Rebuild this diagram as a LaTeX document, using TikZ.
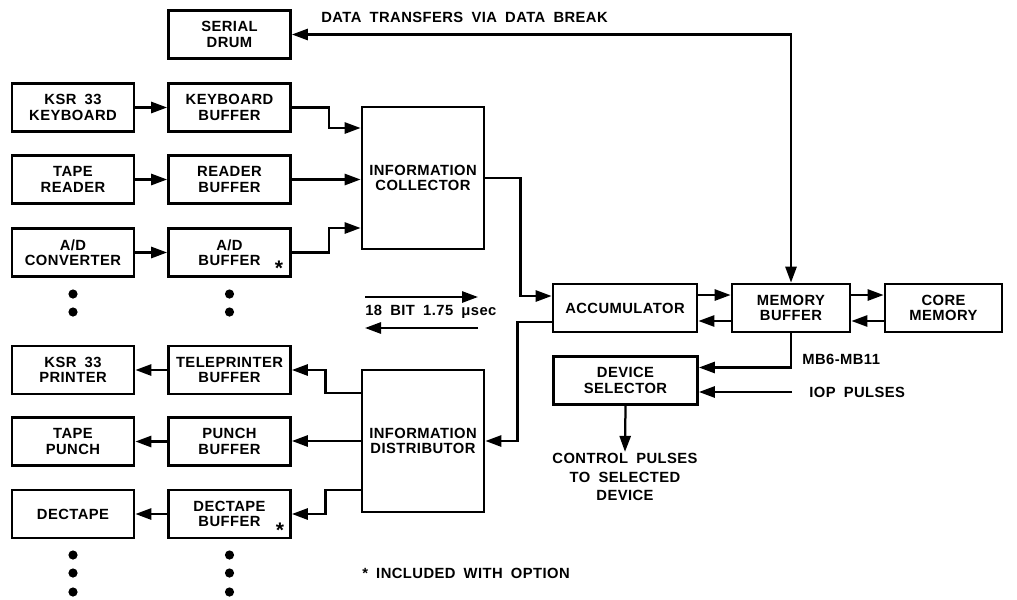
\documentclass[tikz,border=0pt]{standalone}
\usepackage{fontspec}
\setmainfont{Liberation Sans}[LetterSpace=3, WordSpace=1.8]
\usepackage{tikz}
\usetikzlibrary{arrows.meta,positioning,calc}

\begin{document}
\begin{tikzpicture}[
  x=0.25mm, y=-0.25mm,
  every node/.style={font=\fontsize{10.5}{11}\selectfont\bfseries},
  unit/.style={draw, line width=2pt, minimum width=30.5mm, minimum height=12mm,
               align=center, inner sep=1pt},
  bigunit/.style={unit, minimum height=35.5mm},
  wideunit/.style={unit, minimum width=36mm},
  arrow/.style={-{Triangle[length=4mm, width=2.8mm]}, line width=1.6pt},
  twoway/.style={{Triangle[length=4mm, width=2.8mm]}-{Triangle[length=4mm, width=2.8mm]},
                 line width=1.6pt},
  lbl/.style={anchor=west, inner sep=0pt},
  star/.style={font=\fontsize{15}{15}\selectfont\bfseries, inner sep=0pt},
]
\useasboundingbox (0,0) rectangle (1017,599);

%% ── Serial drum ───────────────────────────────────────────────────────────
\node[unit] (drum) at (229.5,34.5) {SERIAL\\DRUM};
\node[lbl] (brk) at (321,17) {DATA TRANSFERS VIA DATA BREAK};

%% ── Input devices and their buffers ──────────────────────────────────────
\foreach \n/\dev/\buf/\y in {
  kbd/{KSR\ 33\\KEYBOARD}/{KEYBOARD\\BUFFER}/107.5,
  rdr/{TAPE\\READER}/{READER\\BUFFER}/179.5,
  ad/{A/D\\CONVERTER}/{A/D\\BUFFER}/252.5} {
  \node[unit] (\n) at (73,\y) {\dev};
  \node[unit] (\n buf) at (229.5,\y) {\buf};
  \draw[arrow] (\n) -- (\n buf);
}
\node[star] (adstar) at (279,268) {*};

%% ── Output devices and their buffers ─────────────────────────────────────
\foreach \n/\dev/\buf/\y in {
  prt/{KSR\ 33\\PRINTER}/{TELEPRINTER\\BUFFER}/370,
  pun/{TAPE\\PUNCH}/{PUNCH\\BUFFER}/441.5,
  dt/{DECTAPE}/{DECTAPE\\BUFFER}/514} {
  \node[unit] (\n) at (73,\y) {\dev};
  \node[unit] (\n buf) at (229.5,\y) {\buf};
  \draw[arrow] (\n buf) -- (\n);
}
\node[star] (dtstar) at (280,530) {*};

%% ── Continuation dots ────────────────────────────────────────────────────
\foreach \x in {73,229.5} {
  \foreach \y in {294,312,555,573,592}
    \fill (\x,\y) circle[radius=1.15mm];
}

%% ── Collector and distributor ────────────────────────────────────────────
\node[bigunit] (coll) at (423,178) {INFORMATION\\COLLECTOR};
\node[bigunit] (dist) at (423,441) {INFORMATION\\DISTRIBUTOR};

\draw[arrow] (kbdbuf.east) -- ++(37,0) |- ($(coll.west)+(0,-50)$);
\draw[arrow] (rdrbuf.east) -- (coll.west |- rdrbuf.east);
\draw[arrow] (adbuf.east) -- ++(37,0) |- ($(coll.west)+(0,50)$);

\draw[arrow] ($(dist.west)+(0,-48)$) -- ++(-35,0) |- (prtbuf.east);
\draw[arrow] (dist.west) -- (dist.west -| punbuf.east);
\draw[arrow] ($(dist.west)+(0,49)$) -- ++(-35,0) |- (dtbuf.east);

%% ── Accumulator, memory ──────────────────────────────────────────────────
\node[wideunit] (acc) at (625,308) {ACCUMULATOR};
\node[unit, minimum width=29.5mm] (mb) at (791,308) {MEMORY\\BUFFER};
\node[unit, minimum width=29.25mm] (core) at (943.5,308) {CORE\\MEMORY};

\draw[arrow] (coll.east) -- ++(35,0) |- ($(acc.west)+(0,-12)$);
\draw[arrow] ($(acc.west)+(0,14)$) -- ++(-34,0) |- (dist.east);
\draw[arrow] ($(acc.east)+(0,-13)$) -- ($(mb.west)+(0,-13)$);
\draw[arrow] ($(mb.west)+(0,13)$) -- ($(acc.east)+(0,13)$);
\draw[arrow] ($(mb.east)+(0,-13)$) -- ($(core.west)+(0,-13)$);
\draw[arrow] ($(core.west)+(0,13)$) -- ($(mb.east)+(0,13)$);
\draw[twoway] (drum.east) -| (mb.north);

%% ── Word length note ─────────────────────────────────────────────────────
\node[lbl] (bit) at (365,312) {18 BIT 1.75 μsec};
\coordinate (bitl1) at (365,297);
\coordinate (bitr1) at (478,297);
\coordinate (bitl2) at (365,328);
\coordinate (bitr2) at (478,328);
\draw[arrow] (bitl1) -- (bitr1);
\draw[arrow] (bitr2) -- (bitl2);

%% ── Device selector ──────────────────────────────────────────────────────
\node[wideunit] (dsel) at (625.5,380.5) {DEVICE\\SELECTOR};
\draw[arrow] (mb.south) |- ($(dsel.east)+(0,-13)$);
\node[lbl] (mbsel) at (802,359) {MB6-MB11};
\node[lbl] (iop) at (809,392) {IOP PULSES};
\coordinate (iopin) at (792,392);
\draw[arrow] (iopin) -- (iopin -| dsel.east);

\node[align=center, inner sep=1pt, font=\fontsize{10.5}{13}\selectfont\bfseries]
  (ctl) at (625,477) {CONTROL PULSES\\TO SELECTED\\DEVICE};
\draw[arrow] (dsel.south) -- (ctl.north);

%% Footnote
\node[lbl] (opt) at (362,573) {* INCLUDED WITH OPTION};

\end{tikzpicture}
\end{document}
